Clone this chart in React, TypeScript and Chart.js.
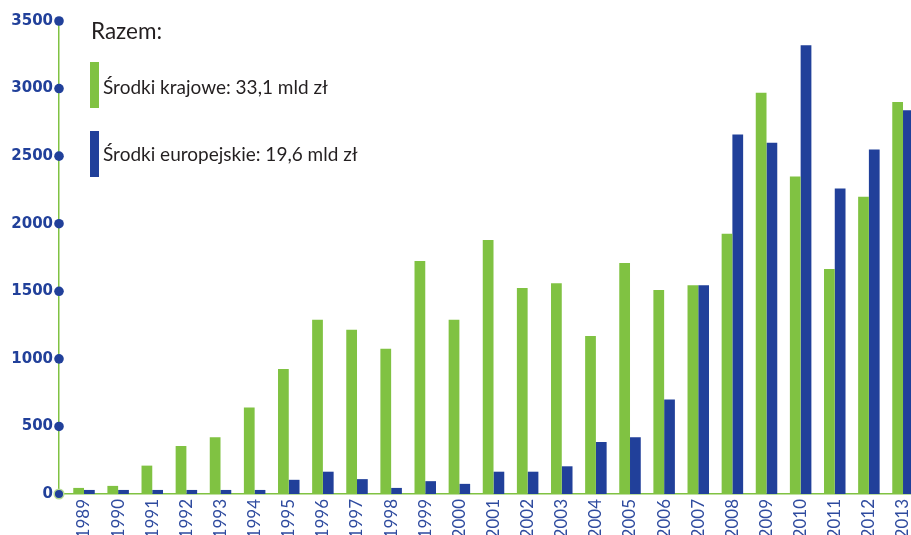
import React, { useEffect, useRef } from "react";
import { Chart, registerables } from "chart.js";

Chart.register(...registerables);

const years = [1989, 1990, 1991, 1992, 1993, 1994, 1995, 1996, 1997, 1998, 1999, 2000, 2001, 2002, 2003, 2004, 2005, 2006, 2007, 2008, 2009, 2010, 2011, 2012, 2013];
const srodkiKrajowe = [45, 60, 210, 355, 420, 640, 925, 1290, 1215, 1075, 1725, 1290, 1880, 1525, 1560, 1170, 1710, 1510, 1545, 1925, 2970, 2350, 1665, 2200, 2900];
const srodkiEuropejskie = [30, 30, 30, 30, 30, 30, 105, 165, 110, 45, 95, 75, 165, 165, 205, 385, 420, 700, 1545, 2660, 2600, 3320, 2260, 2550, 2840];
const yTicks = [0, 500, 1000, 1500, 2000, 2500, 3000, 3500];
const legendTitle = "Razem:";
const seriesNames = ["Środki krajowe: 33,1 mld zł", "Środki europejskie: 19,6 mld zł"];

const GREEN = "#80c242";
const BLUE = "#21409a";
const LABEL_BLUE = "#2f4b9f";
const TEXT = "#231f20";

const overlayPlugin = {
  id: "overlay",
  afterDraw(chart: any) {
    const ctx = chart.ctx;
    const y = chart.scales.y;
    const x0 = chart.chartArea.left;
    ctx.save();
    yTicks.forEach((v) => {
      const py = y.getPixelForValue(v);
      ctx.beginPath();
      ctx.arc(x0, py, 4.8, 0, Math.PI * 2);
      ctx.fillStyle = BLUE;
      ctx.fill();
      if (v === 0) {
        ctx.lineWidth = 1.5;
        ctx.strokeStyle = "#b7dc94";
        ctx.stroke();
      }
    });
    // legend
    ctx.fillStyle = TEXT;
    ctx.textBaseline = "middle";
    ctx.textAlign = "left";
    ctx.font = "22.5px Lato";
    ctx.fillText(legendTitle, 91, 32);
    const colors = [GREEN, BLUE];
    const rectTops = [62, 131];
    const textY = [88, 155];
    ctx.font = "19px Lato";
    seriesNames.forEach((name, i) => {
      ctx.fillStyle = colors[i];
      ctx.fillRect(90, rectTops[i], 9, 46);
      ctx.fillStyle = TEXT;
      ctx.fillText(name, 103, textY[i]);
    });
    ctx.restore();
  },
};

export default function App() {
  const ref = useRef<HTMLCanvasElement | null>(null);
  useEffect(() => {
    if (!ref.current) return;
    const chart = new Chart(ref.current, {
      type: "bar",
      data: {
        labels: years,
        datasets: [
          { label: seriesNames[0], data: srodkiKrajowe, backgroundColor: GREEN, borderWidth: 0, categoryPercentage: 0.63, barPercentage: 1 },
          { label: seriesNames[1], data: srodkiEuropejskie, backgroundColor: BLUE, borderWidth: 0, categoryPercentage: 0.63, barPercentage: 1 },
        ],
      },
      options: {
        responsive: false,
        animation: false,
        layout: { padding: { top: 21, right: 0, left: 0, bottom: 0 } },
        plugins: { legend: { display: false }, tooltip: { enabled: false } },
        scales: {
          x: {
            type: "linear",
            min: 1988.267,
            max: 2013.234,
            offset: false,
            grid: { display: false, drawTicks: false },
            border: { color: GREEN, width: 1.5 },
            ticks: {
              stepSize: 1,
              includeBounds: false,
              autoSkip: false,
              maxTicksLimit: 40,
              minRotation: 90,
              maxRotation: 90,
              padding: 5,
              color: LABEL_BLUE,
              font: { family: "Lato", size: 17 },
              callback: (v: any) => String(v),
            },
            afterFit: (s: any) => {
              s.height = 41;
              s.paddingLeft = 0;
              s.paddingRight = 0;
            },
          },
          y: {
            min: 0,
            max: 3500,
            grid: { display: false, drawTicks: false },
            border: { color: GREEN, width: 1.5 },
            ticks: {
              stepSize: 500,
              padding: 6,
              color: BLUE,
              font: { family: "DejaVu Sans", size: 15, weight: "bold" },
              callback: (v: any) => String(v),
            },
            afterFit: (s: any) => {
              s.width = 59;
              s.paddingTop = 0;
              s.paddingBottom = 0;
            },
          },
        },
      },
      plugins: [overlayPlugin],
    } as any);
    return () => chart.destroy();
  }, []);
  return (
    <div style={{ position: "absolute", left: 0, top: 0, width: 911, height: 535, overflow: "hidden", background: "#fff" }}>
      <canvas ref={ref} width={911} height={535} style={{ width: 911, height: 535, display: "block" }} />
    </div>
  );
}
